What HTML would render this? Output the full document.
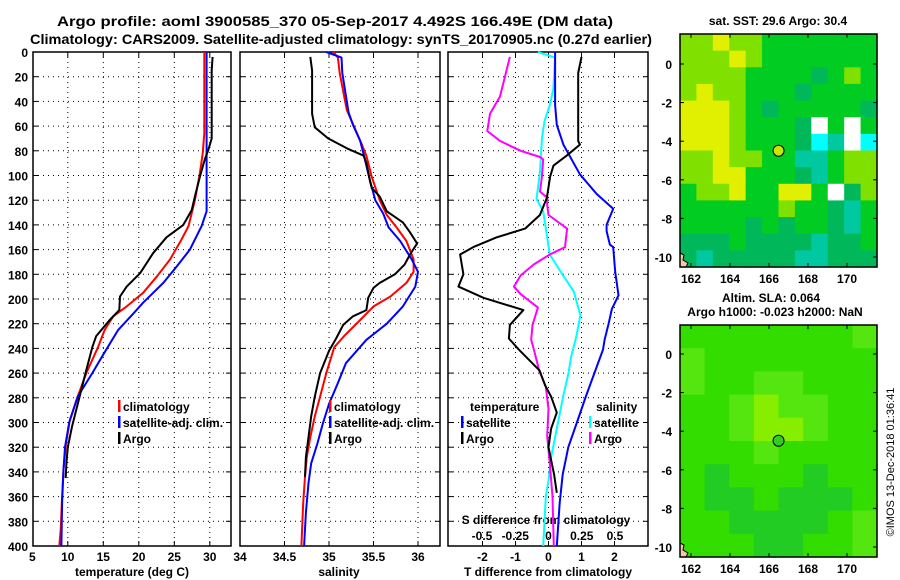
<!DOCTYPE html>
<html><head><meta charset="utf-8"><style>
html,body{margin:0;padding:0;background:#fff;}
svg{display:block;font-family:"Liberation Sans",Arial,sans-serif;font-weight:bold;}
</style></head><body>
<svg id="chart" width="900" height="580" viewBox="0 0 900 580" xmlns="http://www.w3.org/2000/svg">
<rect width="900" height="580" fill="#fff"/>
<text x="57" y="26" font-size="14" textLength="556" lengthAdjust="spacingAndGlyphs">Argo profile: aoml 3900585_370 05-Sep-2017 4.492S 166.49E (DM data)</text>
<text x="30" y="44" font-size="14" textLength="622" lengthAdjust="spacingAndGlyphs">Climatology: CARS2009. Satellite-adjusted climatology: synTS_20170905.nc (0.27d earlier)</text>
<g id="layer"></g>
</svg>
<script>
// ---- data ----
const depthTicks=[0,20,40,60,80,100,120,140,160,180,200,220,240,260,280,300,320,340,360,380,400];
const tempTicks=[5,10,15,20,25,30];
const salTicks=[34,34.5,35,35.5,36];
const tdiffTicks=[-2,-1,0,1,2];
const sdiffTicks=[-0.5,-0.25,0,0.25,0.5];
const sdiffTickLabels=["-0.5","-0.25","0","0.25","0.5"];

const climTempD=[0,66,82,98,112,120,141,152,168,182,195,206,214,225,239,260,279,298,317,338,360,387,400];
const climTempV=[29.23,29.23,29.0,28.6,28.15,27.9,27.0,26.0,24.4,22.5,20.6,18.3,16.4,15.2,14.25,12.6,11.4,10.3,9.75,9.4,9.2,9.0,8.8];
const satTempD=[0,129,141,160,174,187,203,212,225,244,260,279,300,320,338,365,400];
const satTempV=[29.55,29.55,28.85,27.2,25.3,23.45,20.6,19.2,17.1,15.1,13.45,11.4,10.2,9.6,9.4,9.2,9.1];
const argoTempD=[4,15,70,79,87,101,117,128,140,150,163,179,190,198,209,217,230,239,260,279,303,320,333,345];
const argoTempV=[30.4,30.27,30.27,29.8,29.3,28.6,27.9,27.45,26.27,23.9,22.0,20.2,18.3,17.35,17.25,15.9,14.0,13.45,12.5,11.66,10.6,10.0,9.8,9.7];

const climSalD=[0,4.5,17,47,56,75,84,101,120,132,142,153,168,178,187,198,206,217,230,239,260,279,295,312,328,344,365,400];
const climSalV=[35.05,35.10,35.12,35.2,35.255,35.37,35.42,35.48,35.57,35.65,35.76,35.87,35.95,35.95,35.87,35.69,35.5,35.35,35.17,35.06,34.97,34.9,34.84,34.79,34.75,34.73,34.71,34.69];
const satSalD=[0,4.5,17,49,59,72,86,104,120,131,142,153,168,178,190,206,220,233,252,268,285,301,317,333,349,373,400];
const satSalV=[34.97,35.14,35.15,35.22,35.27,35.35,35.4,35.46,35.52,35.61,35.67,35.8,35.93,36.0,35.97,35.83,35.65,35.42,35.19,35.10,35.0,34.93,34.87,34.8,34.77,34.74,34.72];
const argoSalD=[4,15,50,61,70,78,84,90,104,110,117,129,138,146,155,164,172,180,187,191,199,209,214,221,232,242,260,279,295,312,328,344];
const argoSalV=[34.79,34.81,34.81,34.84,34.99,35.2,35.39,35.42,35.46,35.48,35.57,35.65,35.83,35.91,35.99,35.91,35.85,35.74,35.57,35.5,35.44,35.42,35.27,35.16,35.08,35.0,34.9,34.84,34.8,34.77,34.74,34.73];

const satTdD=[0,43,59,75,99,115,127,140,145,156,158,178,197,208,220,233,241,260,279,300,320,342,365,400];
const satTdV=[0.2,0.2,0.25,0.45,0.95,1.46,1.96,1.76,1.76,1.86,1.96,2.02,2.12,1.92,1.82,1.7,1.65,1.39,1.13,0.86,0.6,0.43,0.34,0.25];
const argoTdD=[4,17,72,75,84,92,101,118,132,143,150,158,164,180,190,199,209,221,232,241,258,270,279,292,305,320,342,357];
const argoTdV=[1.0,0.9,0.9,0.95,0.55,0.15,0.05,-0.05,-0.26,-0.71,-1.57,-2.28,-2.68,-2.58,-2.73,-1.97,-0.76,-1.17,-1.2,-0.9,-0.27,-0.1,0.08,0.25,0.08,0.0,0.17,0.25];
const satSdD=[0,4.5,30,43,56,70,97,119,129,164,181,194,213,230,247,260,279,306,328,347,360,400];
const satSdV=[-0.08,0.05,0.036,0.01,-0.03,-0.05,-0.064,-0.09,-0.04,0.01,0.11,0.19,0.24,0.21,0.17,0.15,0.11,0.06,0.02,0.0,-0.02,-0.04];
const argoSdD=[4,36,50,64,72,80,85,87,101,113,118,124,132,143,158,164,172,181,190,196,207,221,233,241,258,271,289,311,333,360,400];
const argoSdV=[-0.29,-0.365,-0.44,-0.46,-0.365,-0.21,-0.064,-0.04,-0.05,-0.064,-0.01,-0.01,0,0.14,0.124,0.01,-0.11,-0.21,-0.26,-0.21,-0.08,-0.12,-0.13,-0.11,-0.07,-0.02,0,-0.01,0.01,0.03,0.04];

const lonTicks=[162,164,166,168,170];
const latTicks=[0,-2,-4,-6,-8,-10];
const sstGrid=["223220000000","222320000000","222200001020","232200010000","333201000001","333200016060","333200015465","223220044022","223300014022","022300330612","000000200140","000010100140","111011114110","141111144111"];
const slaGrid=["00000001","10000000","10011000","00121100","00122100","00010000","03000300","03303330","00333301","00033001"];
const argoLon=166.49, argoLat=-4.492;

// ---- drawing ----
const NS="http://www.w3.org/2000/svg";
const L=document.getElementById('layer');
function el(tag,attrs,parent){const e=document.createElementNS(NS,tag);for(const k in attrs)e.setAttribute(k,attrs[k]);(parent||L).appendChild(e);return e;}
function txt(x,y,s,size,anchor,name){const t=el('text',{x:x,y:y,'font-size':size,'text-anchor':anchor||'start'});t.textContent=s;


return t;}
const Y0=52,Y1=546;
const yD=d=>Y0+d*1.235;
const xT=t=>32.3+(t-5)*7.1;
const xS=s=>240+(s-34)*89;
const xTd=v=>548.5+v*33;
const xSd=v=>548.5+v*133;

const panels=[{x0:33,x1:231,name:'temperature-panel'},{x0:240,x1:440,name:'salinity-panel'},{x0:448,x1:648,name:'difference-panel'}];
const gridX=[tempTicks.slice(1).map(xT),salTicks.slice(1).map(xS),tdiffTicks.map(xTd)];
panels.forEach((p,i)=>{
  const g=el('g',{});
  
  
  depthTicks.slice(1,-1).forEach(d=>{const ln=el('line',{x1:p.x0,x2:p.x1,y1:yD(d),y2:yD(d),stroke:'#000','stroke-width':1,'stroke-dasharray':'1,4'},g);
    
    
    el('line',{x1:p.x0,x2:p.x0+5,y1:yD(d),y2:yD(d),stroke:'#000'},g);el('line',{x1:p.x1-5,x2:p.x1,y1:yD(d),y2:yD(d),stroke:'#000'},g);});
  gridX[i].forEach(x=>{if(x>p.x0+2&&x<p.x1-2){const ln=el('line',{x1:x,x2:x,y1:Y0,y2:Y1,stroke:'#000','stroke-width':1,'stroke-dasharray':'1,4'},g);
    
    
    el('line',{x1:x,x2:x,y1:Y1-5,y2:Y1,stroke:'#000'},g);el('line',{x1:x,x2:x,y1:Y0,y2:Y0+5,stroke:'#000'},g);}});
  const fr=el('rect',{x:p.x0,y:Y0,width:p.x1-p.x0,height:Y1-Y0,fill:'none',stroke:'#000','stroke-width':1.5},g);
  
  
});
depthTicks.forEach(d=>txt(28,yD(d)+5,String(d),12,'end','depth-tick-label'));
tempTicks.forEach(t=>txt(xT(t),561,String(t),12,'middle','temperature-tick-label'));
salTicks.forEach(s=>txt(xS(s),561,String(s),12,'middle','salinity-tick-label'));
tdiffTicks.forEach(v=>txt(xTd(v),561,String(v),12,'middle','t-difference-tick-label'));
sdiffTicks.forEach((v,i)=>txt(xSd(v),540,sdiffTickLabels[i],12,'middle','s-difference-tick-label'));
txt(132,576,'temperature (deg C)',12,'middle','temperature-axis-title');
txt(339,576,'salinity',12,'middle','salinity-axis-title');
txt(548,576,'T difference from climatology',12,'middle','t-difference-axis-title');
txt(546,524,'S difference from climatology',12,'middle','s-difference-axis-title');

function line(D,V,sx,color,name){const pts=D.map((d,i)=>sx(V[i]).toFixed(1)+','+yD(d).toFixed(1)).join(' ');
  const p=el('polyline',{points:pts,fill:'none',stroke:color,'stroke-width':2,'stroke-linejoin':'round'});
  
  }
line(climTempD,climTempV,xT,'#f00','climatology-temperature-line');
line(satTempD,satTempV,xT,'#00f','satellite-temperature-line');
line(argoTempD,argoTempV,xT,'#000','argo-temperature-line');
line(climSalD,climSalV,xS,'#f00','climatology-salinity-line');
line(satSalD,satSalV,xS,'#00f','satellite-salinity-line');
line(argoSalD,argoSalV,xS,'#000','argo-salinity-line');
line(satSdD,satSdV,xSd,'#0ff','satellite-s-difference-line');
line(argoSdD,argoSdV,xSd,'#f0f','argo-s-difference-line');
line(satTdD,satTdV,xTd,'#00f','satellite-t-difference-line');
line(argoTdD,argoTdV,xTd,'#000','argo-t-difference-line');

function legend(x,y,color,label,name){const r=el('rect',{x:x,y:y-11,width:2.5,height:12,fill:color});
  
  
  txt(x+5,y,label,12,'start',name);}
legend(118,411,'#f00','climatology','legend-climatology');
legend(118,427,'#00f','satellite-adj. clim.','legend-satellite-adj');
legend(118,443,'#000','Argo','legend-argo');
legend(329,411,'#f00','climatology','legend-climatology-sal');
legend(329,427,'#00f','satellite-adj. clim.','legend-satellite-adj-sal');
legend(329,443,'#000','Argo','legend-argo-sal');
txt(470,411,'temperature',12,'start','legend-temperature-heading');
legend(461,427,'#00f','satellite','legend-t-satellite');
legend(461,443,'#000','Argo','legend-t-argo');
txt(596,411,'salinity',12,'start','legend-salinity-heading');
legend(589,427,'#0ff','satellite','legend-s-satellite');
legend(589,443,'#f0f','Argo','legend-s-argo');

// maps
const MX0=680,MX1=877;
const lonX=lon=>691+(lon-162)*19.5;
function drawMap(top,bot,lat0y,grid,colors,name,markerFill){
  const g=el('g',{});
  
  
  const rows=grid.length,cols=grid[0].length,cw=(MX1-MX0)/cols,ch=(bot-top)/rows;
  grid.forEach((row,r)=>{for(let c=0;c<cols;c++){const cell=el('rect',{x:MX0+c*cw,y:top+r*ch,width:cw+0.6,height:ch+0.6,fill:colors[+row[c]]},g);
    
    }});
  const latY=lat=>lat0y-lat*19.3;
  latTicks.forEach(lat=>{txt(672,latY(lat)+5,String(lat),12,'end',name+'-lat-label');el('line',{x1:MX0,x2:MX0+4,y1:latY(lat),y2:latY(lat),stroke:'#000'},g);el('line',{x1:MX1-4,x2:MX1,y1:latY(lat),y2:latY(lat),stroke:'#000'},g);});
  lonTicks.forEach(lon=>{txt(lonX(lon),bot+16,String(lon),12,'middle',name+'-lon-label');el('line',{x1:lonX(lon),x2:lonX(lon),y1:bot-4,y2:bot,stroke:'#000'},g);el('line',{x1:lonX(lon),x2:lonX(lon),y1:top,y2:top+4,stroke:'#000'},g);});
  el('path',{d:`M${MX0} ${bot-14} l4 2 l-1 5 l5 3 l-2 4 l-6 0 z`,fill:'#f2c9a0',stroke:'#000','stroke-width':1},g);
  const fr=el('rect',{x:MX0,y:top,width:MX1-MX0,height:bot-top,fill:'none',stroke:'#000','stroke-width':1.5},g);
  
  
  const m=el('circle',{cx:lonX(argoLon),cy:latY(argoLat),r:5.5,fill:markerFill,stroke:'#000','stroke-width':1},g);
  
  
}
drawMap(34,267,64,sstGrid,['#00cc22','#00b85a','#80e000','#e0f000','#00c8a0','#00ffff','#ffffff'],'sst-map','#c8e600');
drawMap(325,557,354,slaGrid,['#33dd00','#55e610','#88ee00','#22cc22'],'sla-map','#33cc22');
txt(778,25,'sat. SST: 29.6 Argo: 30.4',12,'middle','sst-map-title');
txt(771,302,'Altim. SLA: 0.064',12,'middle','sla-map-title');
txt(775,316,'Argo h1000: -0.023 h2000: NaN',12,'middle','sla-argo-heights');
const cp=txt(0,0,'©IMOS 13-Dec-2018 01:36:41',11,'middle','copyright-stamp');
cp.setAttribute('font-weight','normal');
cp.setAttribute('transform','translate(894,462) rotate(-90)');
</script>
</body></html>
